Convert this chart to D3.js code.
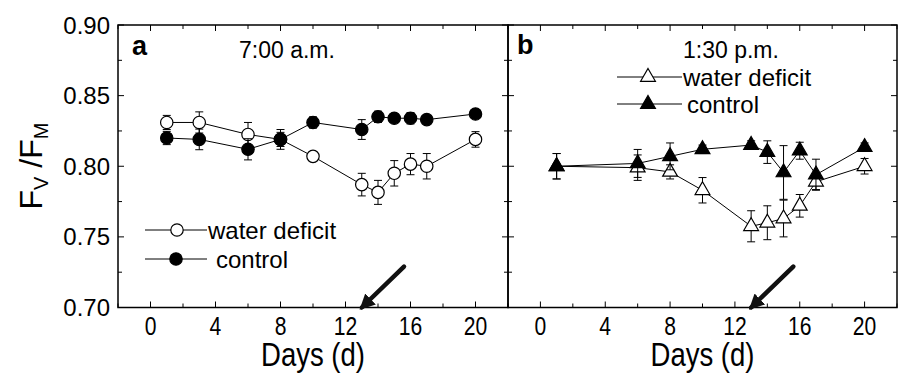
<!DOCTYPE html>
<html>
<head>
<meta charset="utf-8">
<script src="https://cdn.jsdelivr.net/npm/d3@7"></script>
<style>
  body { margin: 0; background: #fff; }
  svg { display: block; }
  text { font-family: "Liberation Sans", Arial, sans-serif; fill: #000; }
</style>
</head>
<body>
<svg id="base" width="898" height="377"></svg>
<script>
// ------------------ data ---------------------------
var daysA = [1, 3, 6, 8, 10, 13, 14, 15, 16, 17, 20];
var a_wd = [0.831, 0.831, 0.8225, 0.819, 0.807, 0.787, 0.7815, 0.795, 0.8015, 0.800, 0.819];
var a_wd_err = [0.005, 0.0075, 0.0085, 0.005, 0.002, 0.008, 0.0085, 0.009, 0.0075, 0.009, 0.0055];
var a_ct = [0.820, 0.819, 0.812, 0.819, 0.831, 0.826, 0.835, 0.834, 0.834, 0.833, 0.837];
var a_ct_err = [0.0047, 0.0073, 0.0075, 0.007, 0.004, 0.007, 0.004, 0.003, 0.004, 0.002, 0.002];

var daysB = [1, 6, 8, 10, 13, 14, 15, 16, 17, 20];
var b_wd = [0.800, 0.799, 0.796, 0.783, 0.7575, 0.760, 0.763, 0.772, 0.789, 0.800];
var b_wd_err = [0.009, 0.009, 0.005, 0.009, 0.011, 0.012, 0.013, 0.008, 0.0055, 0.0055];
var b_ct = [0.800, 0.802, 0.807, 0.812, 0.815, 0.810, 0.7956, 0.811, 0.794, 0.8135];
var b_ct_err = [0.009, 0.0099, 0.0095, 0.003, 0.003, 0.008, 0.019, 0.006, 0.011, 0.003];

var xTicks = [0, 4, 8, 12, 16, 20];
var yTicks = [0.70, 0.75, 0.80, 0.85, 0.90];
var arrowFrom = [15.6, 0.729];   // tail (day, Fv/Fm)
var arrowTo = [13, 0.70];        // tip

var svg = d3.select('#base');

var top_ = 25, bottom = 307.5;
var y = d3.scaleLinear().domain([0.70, 0.90]).range([bottom, top_]);

// arrow head marker
svg.append('defs').append('marker').attr('id', 'ah')
   .attr('viewBox', '0 0 10 10').attr('refX', 8).attr('refY', 5)
   .attr('markerWidth', 3.4).attr('markerHeight', 3.4).attr('orient', 'auto')
   .append('path').attr('d', 'M0,0 L10,5 L0,10 z').attr('fill', '#111');

// condensed text: squeeze horizontally around its own anchor x
function squeeze(sel, cx, by, sx, sy) {
    sel.attr('transform', 'translate(' + cx + ',' + by + ') scale(' + sx + ',' + sy + ') translate(' + (-cx) + ',' + (-by) + ')');
}

function panel(x0, x1, days, wd, wdErr, ct, ctErr, shape) {
    var x = d3.scaleLinear().domain([-2, 22]).range([x0, x1]);
    var g = svg.append('g');

    // ticks on all 4 sides, pointing inward
    var minorX = d3.range(-2, 23, 2), minorY = d3.range(0.70, 0.9001, 0.025);
    minorX.forEach(function (t) {
        var len = (t % 4 === 0) ? 6 : 4;
        g.append('line').attr('x1', x(t)).attr('x2', x(t)).attr('y1', bottom).attr('y2', bottom - len).attr('stroke', '#000');
        g.append('line').attr('x1', x(t)).attr('x2', x(t)).attr('y1', top_).attr('y2', top_ + len).attr('stroke', '#000');
    });
    minorY.forEach(function (t, i) {
        var len = (i % 2 === 0) ? 6 : 4;
        g.append('line').attr('x1', x0).attr('x2', x0 + len).attr('y1', y(t)).attr('y2', y(t)).attr('stroke', '#000');
        g.append('line').attr('x1', x1).attr('x2', x1 - len).attr('y1', y(t)).attr('y2', y(t)).attr('stroke', '#000');
    });

    // frame
    g.append('rect').attr('x', x0).attr('y', top_).attr('width', x1 - x0).attr('height', bottom - top_)
     .attr('fill', 'none').attr('stroke', '#000').attr('stroke-width', 1.5);

    // x tick labels
    xTicks.forEach(function (d) {
        var t = g.append('text').attr('x', x(d)).attr('y', 335)
                 .attr('text-anchor', 'middle').style('font-size', '24px').text(d);
        squeeze(t, x(d), 335, 0.88, 1.06);
    });

    // x label
    var cx = x(10);
    var xl = g.append('text').attr('x', cx).attr('y', 366).attr('text-anchor', 'middle')
              .style('font-size', '32px').text('Days (d)');
    squeeze(xl, cx, 366, 0.86, 1.05);

    // arrow
    g.append('line').attr('x1', x(arrowFrom[0])).attr('y1', y(arrowFrom[1]))
     .attr('x2', x(arrowTo[0])).attr('y2', y(arrowTo[1]))
     .attr('stroke', '#111').attr('stroke-width', 4.5).attr('stroke-linecap', 'round')
     .attr('marker-end', 'url(#ah)');

    var sym = d3.symbol().type(d3.symbolTriangle).size(95);

    function series(vals, errs, fill) {
        var pts = days.map(function (d, i) { return { d: d, v: vals[i], e: errs[i] }; });
        g.append('path').datum(pts)
         .attr('d', d3.line().x(function (p) { return x(p.d); }).y(function (p) { return y(p.v); }))
         .attr('fill', 'none').attr('stroke', '#000').attr('stroke-width', 1);
        var eb = g.append('g');
        pts.forEach(function (p) {
            var px = x(p.d);
            eb.append('line').attr('x1', px).attr('x2', px).attr('y1', y(p.v - p.e)).attr('y2', y(p.v + p.e)).attr('stroke', '#000');
            [p.v - p.e, p.v + p.e].forEach(function (v) {
                eb.append('line').attr('x1', px - 4).attr('x2', px + 4).attr('y1', y(v)).attr('y2', y(v)).attr('stroke', '#000');
            });
        });
        pts.forEach(function (p) {
            if (shape === 'circle') {
                g.append('circle').attr('cx', x(p.d)).attr('cy', y(p.v)).attr('r', 6.2)
                 .attr('fill', fill).attr('stroke', '#000').attr('stroke-width', 1.2);
            } else {
                g.append('path').attr('d', sym).attr('transform', 'translate(' + x(p.d) + ',' + y(p.v) + ')')
                 .attr('fill', fill).attr('stroke', '#000').attr('stroke-width', 1.2);
            }
        });
    }
    series(wd, wdErr, '#fff');
    series(ct, ctErr, '#000');
    return g;
}

// ------------------ panel a ---------------------------
var ga = panel(118, 508, daysA, a_wd, a_wd_err, a_ct, a_ct_err, 'circle');
// ------------------ panel b ---------------------------
var gb = panel(508, 897, daysB, b_wd, b_wd_err, b_ct, b_ct_err, 'triangle');

// y tick labels
svg.selectAll('.yl').data(yTicks).enter().append('text')
   .attr('x', 110).attr('y', function (d) { return y(d) + 8.5; })
   .attr('text-anchor', 'end').style('font-size', '24px')
   .text(function (d) { return d.toFixed(2); });

// y label
var yl = svg.append('text').attr('transform', 'translate(42,166) rotate(-90)')
   .attr('text-anchor', 'middle').style('font-size', '32px');
yl.append('tspan').text('F');
yl.append('tspan').attr('dy', 6).style('font-size', '20px').text('V');
yl.append('tspan').attr('dy', -6).text(' /F');
yl.append('tspan').attr('dy', 6).style('font-size', '20px').text('M');

// panel titles
svg.append('text').attr('x', 132).attr('y', 55).style('font-size', '27px').style('font-weight', 'bold').text('a');
svg.append('text').attr('x', 239).attr('y', 58).style('font-size', '23px').text('7:00 a.m.');
svg.append('text').attr('x', 517).attr('y', 54).style('font-size', '27px').style('font-weight', 'bold').text('b');
svg.append('text').attr('x', 683).attr('y', 58).style('font-size', '23px').text('1:30 p.m.');

// ------------------ legends ---------------------------
function legend(xl0, xl1, xm, yy, tx, label, fill, shape) {
    svg.append('line').attr('x1', xl0).attr('x2', xl1).attr('y1', yy).attr('y2', yy).attr('stroke', '#000');
    if (shape === 'circle') {
        svg.append('circle').attr('cx', xm).attr('cy', yy).attr('r', 6.2).attr('fill', fill).attr('stroke', '#000').attr('stroke-width', 1.2);
    } else {
        svg.append('path').attr('d', d3.symbol().type(d3.symbolTriangle).size(95))
           .attr('transform', 'translate(' + xm + ',' + yy + ')').attr('fill', fill).attr('stroke', '#000').attr('stroke-width', 1.2);
    }
    svg.append('text').attr('x', tx).attr('y', yy + 8.5).style('font-size', '24px').text(label);
}
legend(145, 207, 177, 230, 208, 'water deficit', '#fff', 'circle');
legend(145, 207, 176, 259, 216, 'control', '#000', 'circle');
legend(617, 682, 648, 77, 683, 'water deficit', '#fff', 'triangle');
legend(617, 682, 648, 104, 687, 'control', '#000', 'triangle');
</script>
</body>
</html>
